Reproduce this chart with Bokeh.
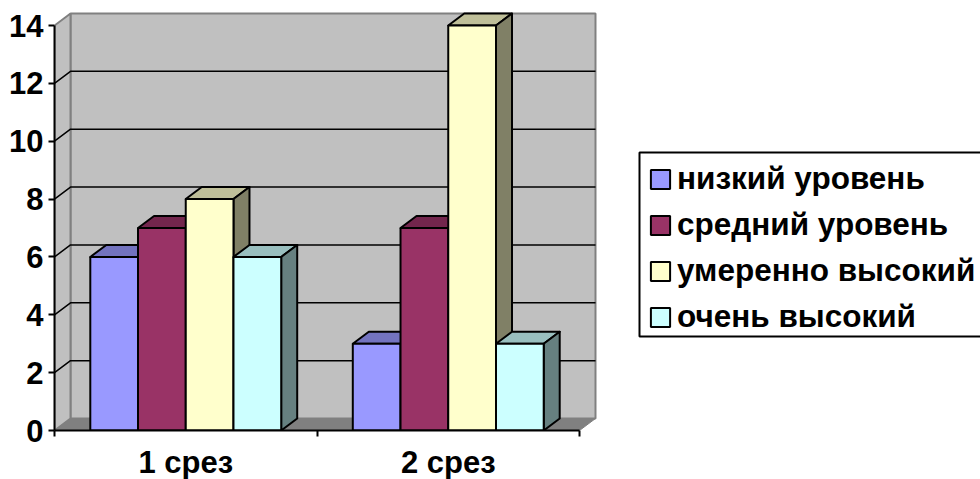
from bokeh.plotting import figure
from bokeh.models import ColumnDataSource, Range1d, LinearAxis, FixedTicker, Legend, LegendItem, BoxAnnotation
from bokeh.embed import file_html
from bokeh.resources import INLINE

categories = ["1 срез", "2 срез"]
series_names = ["низкий уровень", "средний уровень", "умеренно высокий", "очень высокий"]
low = [6, 3]
medium = [7, 7]
moderately_high = [8, 14]
very_high = [6, 3]
y_ticks = [0, 2, 4, 6, 8, 10, 12, 14]

front_colors = ["#9999FF", "#993366", "#FFFFCC", "#CCFFFF"]
top_colors = ["#7373BF", "#73264D", "#BFBF99", "#99BFBF"]
side_colors = ["#4D4D80", "#4D1A33", "#808066", "#668080"]

series = [low, medium, moderately_high, very_high]

FONT = "Liberation Sans"
PX_X = 262.5
PX_Y = 405 / 14
DX = 16 / PX_X
DY = 12 / PX_Y
BAR_W = 1 / 5.5
N = len(categories)
YMAX = max(y_ticks)

p = figure(width=980, height=482, output_backend="svg", toolbar_location=None,
           x_range=Range1d(0, 926 / PX_X), y_range=Range1d(0, 420 / PX_Y),
           x_axis_type=None, y_axis_type=None,
           min_border_left=54, min_border_right=0, min_border_top=10, min_border_bottom=49)
p.outline_line_color = None
p.background_fill_color = "white"
p.grid.visible = False

# walls and floor
wall = dict(fill_color="#C0C0C0", line_color="#808080", line_width=2)
p.patch([DX, N + DX, N + DX, DX], [DY, DY, YMAX + DY, YMAX + DY], **wall)
p.patch([0, DX, DX, 0], [0, DY, YMAX + DY, YMAX], **wall)
p.patch([0, N, N + DX, DX], [0, 0, DY, DY], fill_color="#808080", line_color="#808080", line_width=1)

# gridlines across side wall and back wall
inner = [t for t in y_ticks if 0 < t < YMAX]
p.multi_line([[0, DX, N + DX] for _ in inner], [[t, t + DY, t + DY] for t in inner],
             line_color="black", line_width=1.5)

# bars
legend_items = []
for s, (vals, name) in enumerate(zip(series, series_names)):
    left = [i + BAR_W * (0.75 + s) for i in range(N)]
    right = [l + BAR_W for l in left]
    centre = [l + BAR_W / 2 for l in left]
    tops_x = [[l, r, r + DX, l + DX] for l, r in zip(left, right)]
    tops_y = [[v, v, v + DY, v + DY] for v in vals]
    side_x = [[r, r + DX, r + DX, r] for r in right]
    side_y = [[0, DY, v + DY, v] for v in vals]
    p.patches(tops_x, tops_y, fill_color=top_colors[s], line_color="black", line_width=2, line_join="round")
    p.patches(side_x, side_y, fill_color=side_colors[s], line_color="black", line_width=2, line_join="round")
    src = ColumnDataSource(dict(x=centre, top=vals))
    r = p.vbar(x="x", top="top", bottom=0, width=BAR_W, source=src,
               fill_color=front_colors[s], line_color="black", line_width=2)
    legend_items.append(LegendItem(label=name, renderers=[r]))

# axes
yaxis = LinearAxis(ticker=FixedTicker(ticks=y_ticks), bounds=(0, YMAX),
                   axis_line_color="black", axis_line_width=2,
                   major_tick_line_color="black", major_tick_line_width=2,
                   major_tick_in=0, major_tick_out=6, minor_tick_out=0, minor_tick_in=0,
                   major_label_text_font=FONT, major_label_text_font_style="bold",
                   major_label_text_font_size="31px", major_label_text_color="black",
                   major_label_standoff=5)
p.add_layout(yaxis, "left")

xaxis = LinearAxis(ticker=FixedTicker(ticks=[i + 0.5 for i in range(N)], minor_ticks=list(range(N + 1))),
                   bounds=(0, N),
                   major_label_overrides={i + 0.5: c for i, c in enumerate(categories)},
                   axis_line_color="black", axis_line_width=2,
                   major_tick_in=0, major_tick_out=0,
                   minor_tick_line_color="black", minor_tick_line_width=2,
                   minor_tick_in=0, minor_tick_out=6,
                   major_label_text_font=FONT, major_label_text_font_style="bold",
                   major_label_text_font_size="31px", major_label_text_color="black",
                   major_label_standoff=8)
p.add_layout(xaxis, "below")

# legend frame runs off the right edge of the picture, as in the reference
p.add_layout(BoxAnnotation(left=639, right=1100, top=152, bottom=336,
                           left_units="canvas", right_units="canvas",
                           top_units="canvas", bottom_units="canvas",
                           fill_color="white", fill_alpha=1,
                           line_color="black", line_alpha=1, line_width=2,
                           level="overlay"))

legend = Legend(items=legend_items, location=(594, 95), orientation="vertical",
                padding=0, margin=0, spacing=9, glyph_width=24, glyph_height=24,
                label_standoff=5, label_height=28,
                label_text_font=FONT, label_text_font_style="bold",
                label_text_font_size="31.5px", label_text_color="black",
                border_line_color=None, background_fill_alpha=0, level="overlay")
p.add_layout(legend, "center")

open("out.html", "w").write(file_html(p, INLINE))
